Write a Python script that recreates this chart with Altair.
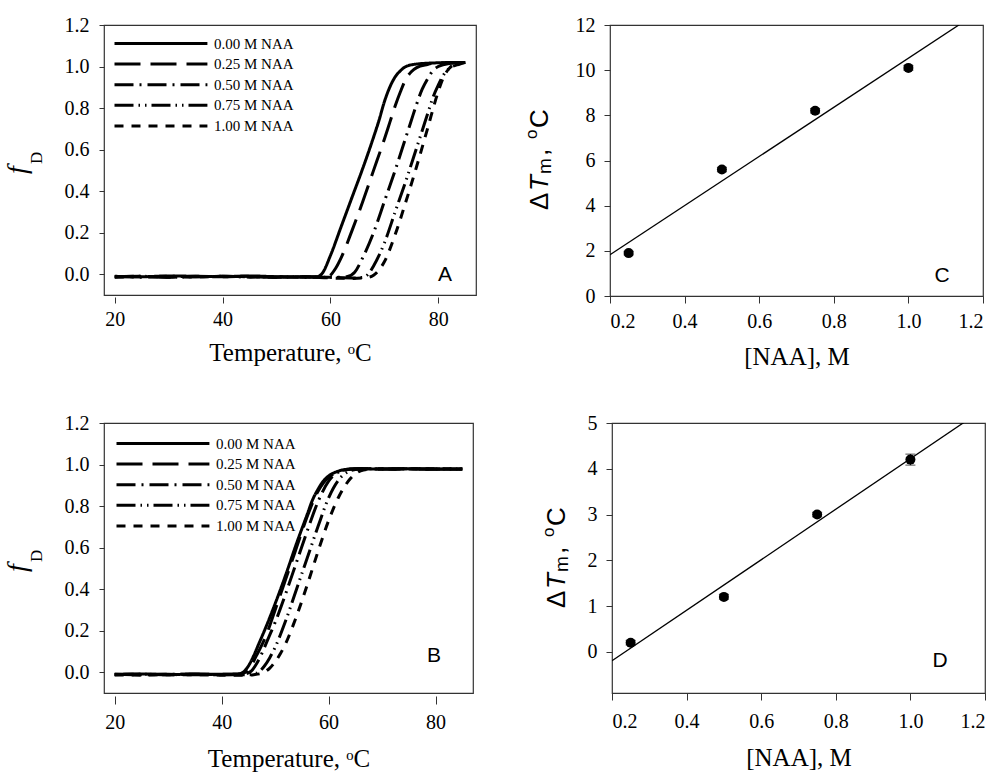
import altair as alt
import pandas as pd

SERIES = ["0.00 M NAA", "0.25 M NAA", "0.50 M NAA", "0.75 M NAA", "1.00 M NAA"]
DASHES = [[1, 0], [26, 10], [19, 6, 2, 6], [19, 5, 1.5, 5, 1.5, 5], [9, 8]]

# ---------------- Panel A (melting curves) ----------------
a00_T = [20, 25, 30, 35, 40, 45, 50, 55, 57.5, 58.5, 60, 62, 64, 66, 68, 69, 70, 71, 72, 73, 74, 76, 80, 85]
a00_f = [-0.010, -0.012, -0.008, -0.010, -0.012, -0.008, -0.012, -0.014, -0.012, 0.005, 0.09, 0.23, 0.37,
         0.51, 0.66, 0.74, 0.83, 0.90, 0.95, 0.98, 1.00, 1.012, 1.018, 1.020]
a25_T = [20, 25, 30, 35, 40, 45, 50, 55, 58, 59.5, 61, 62, 64, 66, 68, 70, 71, 72, 73, 74, 75, 76, 78, 80, 85]
a25_f = [-0.012, -0.010, -0.014, -0.010, -0.012, -0.010, -0.014, -0.012, -0.015, -0.012, 0.03, 0.08, 0.21,
         0.35, 0.50, 0.65, 0.73, 0.81, 0.88, 0.94, 0.975, 0.995, 1.010, 1.018, 1.020]
a50_T = [20, 25, 30, 35, 40, 45, 50, 55, 60, 63, 64.5, 66, 68, 70, 72, 74, 75, 76, 77, 78, 79, 80, 82, 85]
a50_f = [-0.012, -0.014, -0.010, -0.012, -0.010, -0.014, -0.012, -0.015, -0.015, -0.012, 0.01, 0.08, 0.20,
         0.35, 0.50, 0.66, 0.74, 0.82, 0.89, 0.94, 0.98, 1.00, 1.015, 1.020]
a75_T = [20, 25, 30, 35, 40, 45, 50, 55, 60, 64, 66, 67, 68, 70, 72, 74, 76, 77, 78, 79, 80, 81, 82, 84, 85]
a75_f = [-0.012, -0.010, -0.014, -0.012, -0.010, -0.012, -0.014, -0.012, -0.015, -0.018, -0.015, 0.0, 0.04,
         0.15, 0.30, 0.45, 0.61, 0.69, 0.77, 0.85, 0.91, 0.96, 0.99, 1.012, 1.020]
a100_T = [20, 25, 30, 35, 40, 45, 50, 55, 60, 64, 67, 68, 69, 70, 72, 74, 76, 78, 80, 81, 82, 83, 85]
a100_f = [-0.014, -0.012, -0.012, -0.014, -0.010, -0.012, -0.014, -0.012, -0.018, -0.020, -0.015, -0.005,
          0.02, 0.06, 0.19, 0.35, 0.52, 0.70, 0.88, 0.95, 0.99, 1.010, 1.020]

# ---------------- Panel B (melting curves) ----------------
b00_T = [20, 25, 30, 35, 40, 43, 44, 45, 46, 47, 48, 50, 52, 54, 56, 57, 58, 59, 60, 61, 62, 64, 66, 70, 75, 80, 85]
b00_f = [-0.010, -0.008, -0.012, -0.008, -0.010, -0.008, 0.0, 0.03, 0.08, 0.14, 0.20, 0.33, 0.47, 0.62, 0.76,
         0.83, 0.88, 0.92, 0.945, 0.96, 0.97, 0.978, 0.980, 0.978, 0.980, 0.977, 0.978]
b25_T = [20, 25, 30, 35, 40, 43, 44.5, 45.5, 46.5, 47.5, 48.5, 50, 52, 54, 56, 58, 59, 60, 61, 62, 64, 66, 70, 75, 80, 85]
b25_f = [-0.012, -0.010, -0.010, -0.012, -0.010, -0.010, 0.0, 0.03, 0.08, 0.13, 0.19, 0.30, 0.45, 0.60, 0.75,
         0.87, 0.91, 0.94, 0.955, 0.968, 0.977, 0.980, 0.978, 0.980, 0.978, 0.978]
b50_T = [20, 25, 30, 35, 40, 44, 45.5, 46.5, 47.5, 48.5, 50, 52, 54, 56, 58, 60, 61, 62, 63, 65, 67, 70, 75, 80, 85]
b50_f = [-0.010, -0.012, -0.010, -0.010, -0.012, -0.010, 0.005, 0.04, 0.09, 0.15, 0.24, 0.38, 0.53, 0.68, 0.82,
         0.92, 0.95, 0.965, 0.975, 0.980, 0.980, 0.978, 0.980, 0.978, 0.978]
b75_T = [20, 25, 30, 35, 40, 45, 46.5, 48, 49, 50, 52, 54, 56, 58, 60, 62, 63, 64, 66, 68, 70, 75, 80, 85]
b75_f = [-0.012, -0.010, -0.012, -0.010, -0.012, -0.012, -0.005, 0.03, 0.07, 0.12, 0.25, 0.40, 0.55, 0.70,
         0.84, 0.93, 0.955, 0.97, 0.978, 0.980, 0.978, 0.980, 0.978, 0.978]
b100_T = [20, 25, 30, 35, 40, 44, 46, 47.5, 49, 50, 51, 52, 54, 56, 58, 60, 62, 64, 65, 66, 68, 70, 75, 80, 85]
b100_f = [-0.012, -0.014, -0.012, -0.012, -0.014, -0.015, -0.012, -0.005, 0.02, 0.05, 0.09, 0.14, 0.27, 0.42,
          0.58, 0.73, 0.85, 0.93, 0.955, 0.97, 0.978, 0.980, 0.978, 0.980, 0.978]

# ---------------- Panels C and D (delta Tm vs [NAA]) ----------------
naa = [0.25, 0.50, 0.75, 1.00]
dtm_c = [1.9, 5.6, 8.2, 10.1]
err_c = [0.08, 0.10, 0.10, 0.10]
dtm_d = [0.2, 1.2, 3.0, 4.2]
err_d = [0.05, 0.05, 0.05, 0.12]

panel_letters = ["A", "B", "C", "D"]

SERIF = "Liberation Serif"
SANS = "Liberation Sans"


def curves_df(Ts, Fs):
    rows = []
    for name, T, F in zip(SERIES, Ts, Fs):
        for t, f in zip(T, F):
            rows.append({"series": name, "T": t, "fD": f})
    return pd.DataFrame(rows)


def txt(s, x, y, size, font=SERIF, style="normal", angle=0, align="left", baseline="alphabetic"):
    return alt.Chart(pd.DataFrame({"s": [s]})).mark_text(
        font=font, fontSize=size, fontStyle=style, angle=angle, align=align,
        baseline=baseline, color="black"
    ).encode(x=alt.value(x), y=alt.value(y), text="s:N")


def curve_panel(df, w, h, letter, lx, ly, xoff, xtick, xlabpad, xtitlepad, legx, legy):
    lines = alt.Chart(df).mark_line(color="black", strokeWidth=3, interpolate="monotone").encode(
        x=alt.X("T:Q", scale=alt.Scale(domain=[18, 87], nice=False, zero=False),
                axis=alt.Axis(values=[20, 40, 60, 80], title="Temperature, ᵒC", offset=xoff,
                              tickSize=xtick, labelPadding=xlabpad, titlePadding=xtitlepad,
                              titleFontSize=25)),
        y=alt.Y("fD:Q", scale=alt.Scale(domain=[-0.1, 1.2], nice=False, zero=False),
                axis=alt.Axis(values=[0, 0.2, 0.4, 0.6, 0.8, 1.0, 1.2], format=".1f", title=None,
                              tickSize=5, labelPadding=10)),
        strokeDash=alt.StrokeDash(
            "series:N",
            scale=alt.Scale(domain=SERIES, range=DASHES),
            legend=alt.Legend(title=None, orient="none", legendX=legx, legendY=legy,
                              symbolType="M0,0H23.6", symbolSize=62, symbolStrokeWidth=3,
                              symbolStrokeColor="black", labelFont=SERIF, labelFontSize=15,
                              labelColor="black", labelOffset=92, rowPadding=4.6, padding=0,
                              labelLimit=300),
        ),
    )
    f_t = txt("f", -78, 149, 28, style="italic", angle=270)
    d_t = txt("D", -62, 139, 17, angle=270)
    let = txt(letter, lx, ly, 21, font=SANS, align="center")
    return alt.layer(lines, f_t, d_t, let).properties(width=w, height=h)


def scatter_panel(yv, ev, ydom, yticks, w, h, letter, lx, ly, titlex, xlabpad, xtitlepad):
    df = pd.DataFrame({"x": naa, "y": yv,
                       "lo": [a - b for a, b in zip(yv, ev)],
                       "hi": [a + b for a, b in zip(yv, ev)]})
    xs = alt.Scale(domain=[0.2, 1.2], nice=False, zero=False)
    ys = alt.Scale(domain=ydom, nice=False, zero=False)
    xax = alt.Axis(values=[0.2, 0.4, 0.6, 0.8, 1.0, 1.2], format=".1f", title="[NAA], M",
                   tickSize=7, labelPadding=xlabpad, titlePadding=xtitlepad, titleFontSize=25)
    yax = alt.Axis(values=yticks, title=None, tickSize=6, labelPadding=9)
    base = alt.Chart(df)
    fit = base.transform_regression("x", "y", extent=[0.2, 1.2]).mark_line(
        color="black", strokeWidth=1.3, clip=True
    ).encode(x=alt.X("x:Q", scale=xs, axis=xax), y=alt.Y("y:Q", scale=ys, axis=yax))
    bars = base.mark_rule(color="black", strokeWidth=1).encode(x="x:Q", y="lo:Q", y2="hi:Q")
    cap_lo = base.mark_tick(color="black", orient="horizontal", size=10, thickness=1).encode(x="x:Q", y="lo:Q")
    cap_hi = base.mark_tick(color="black", orient="horizontal", size=10, thickness=1).encode(x="x:Q", y="hi:Q")
    pts = base.mark_circle(size=100, color="black", opacity=1).encode(x="x:Q", y="y:Q")
    t = [
        txt("Δ", titlex, 185, 26, font=SANS, angle=270),
        txt("T", titlex, 166, 26, font=SANS, style="italic", angle=270),
        txt("m", titlex + 3, 149, 19, font=SANS, angle=270),
        txt(",", titlex, 131, 26, font=SANS, angle=270),
        txt("o", titlex - 11, 114, 17, font=SANS, angle=270),
        txt("C", titlex, 103, 26, font=SANS, angle=270),
    ]
    let = txt(letter, lx, ly, 21, font=SANS, align="center")
    return alt.layer(fit, bars, cap_lo, cap_hi, pts, *t, let).properties(width=w, height=h)


dfA = curves_df([a00_T, a25_T, a50_T, a75_T, a100_T], [a00_f, a25_f, a50_f, a75_f, a100_f])
dfB = curves_df([b00_T, b25_T, b50_T, b75_T, b100_T], [b00_f, b25_f, b50_f, b75_f, b100_f])

A = curve_panel(dfA, 372, 270, panel_letters[0], 341, 256, 2, 6, 6, 11, 3, 11)
B = curve_panel(dfB, 369, 270, panel_letters[1], 330, 239, 3, 8, 8, 14, 5, 13)
C = scatter_panel(dtm_c, err_c, [0, 12], [0, 2, 4, 6, 8, 10, 12], 373, 271, panel_letters[2], 332, 257, -62, 8, 13)
D = scatter_panel(dtm_d, err_d, [-0.9, 5], [0, 1, 2, 3, 4, 5], 373, 270, panel_letters[3], 328, 244, -47, 11, 14)

top = alt.hconcat(A, C, spacing=45).resolve_scale(strokeDash="independent").resolve_legend(strokeDash="independent")
bottom = alt.hconcat(B, D, spacing=65).resolve_scale(strokeDash="independent").resolve_legend(strokeDash="independent")

chart = alt.vconcat(top, bottom, spacing=42).resolve_scale(
    strokeDash="independent").resolve_legend(strokeDash="independent").properties(
    padding={"left": 3, "top": 14, "right": 0, "bottom": 0}, background="white"
).configure_view(stroke="#333333", strokeWidth=1.2).configure_axis(
    labelFont=SERIF, labelFontSize=20, labelColor="black", tickColor="#333333",
    domain=False, grid=False, titleFont=SERIF, titleFontWeight="normal", titleColor="black"
)

chart.save("out.html", embed_options={"renderer": "svg", "actions": False})
